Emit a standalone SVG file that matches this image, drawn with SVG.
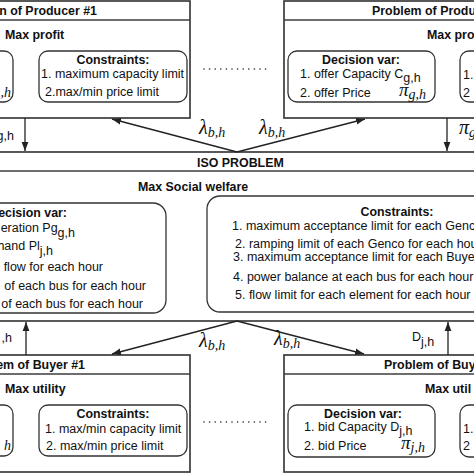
<svg xmlns="http://www.w3.org/2000/svg" width="474" height="474" viewBox="0 0 474 474">
<defs>
<style>
.box{fill:#fff;stroke:#3c3c3c;stroke-width:1.7}
.div{stroke:#3c3c3c;stroke-width:1.5;fill:none}
.inner{fill:#fff;stroke:#333;stroke-width:1.3}
.h{font-family:"Liberation Sans",Arial,sans-serif;font-weight:bold;font-size:12.4px;fill:#111}
.t{font-family:"Liberation Sans",Arial,sans-serif;font-size:12.5px;fill:#111}
.m{font-family:"Liberation Serif","Times New Roman",serif;font-style:italic;fill:#111}
.con{stroke:#222;stroke-width:1.3;fill:none;marker-end:url(#ah)}
.dots{stroke:#222;stroke-width:1.6;stroke-linecap:round;stroke-dasharray:0 5.6;fill:none}
</style>
<marker id="ah" markerUnits="userSpaceOnUse" markerWidth="10" markerHeight="8" refX="9" refY="4" orient="auto">
<path d="M0,0.6 L9,4 L0,7.4 Z" fill="#222"/>
</marker>
</defs>
<rect width="474" height="474" fill="#fff"/>

<g id="producer1">
<rect class="box" x="-120" y="1" width="310" height="117"/>
<line class="div" x1="-120" y1="20" x2="190" y2="20"/>
<text class="h" x="97" y="15" text-anchor="end">n of Producer #1</text>
<text class="h" x="5" y="39">Max profit</text>
<rect class="inner" x="-140" y="51" width="153" height="51" rx="9"/>
<text class="m" x="11" y="97" text-anchor="end" font-size="14">,h</text>
<rect class="inner" x="39" y="51" width="148" height="51" rx="9"/>
<text class="h" x="113" y="64" text-anchor="middle">Constraints:</text>
<text class="t" x="41" y="78">1. maximum capacity limit</text>
<text class="t" x="45" y="96">2.max/min price limit</text>
</g>

<g id="producerN">
<rect class="box" x="284" y="1" width="300" height="117"/>
<line class="div" x1="284" y1="20" x2="584" y2="20"/>
<text class="h" x="372" y="15">Problem of Produ</text>
<text class="h" x="427" y="39">Max pro</text>
<rect class="inner" x="288" y="51" width="147" height="51" rx="9"/>
<text class="h" x="361" y="64" text-anchor="middle">Decision var:</text>
<text class="t" x="300" y="78">1. offer Capacity C<tspan dy="4">g,h</tspan></text>
<text class="t" x="300" y="97">2. offer Price</text>
<text class="m" x="399" y="96" font-size="19">π<tspan font-size="14" dy="3">g,h</tspan></text>
<rect class="inner" x="460" y="51" width="100" height="51" rx="9"/>
<text class="t" x="463" y="79">1.</text>
<text class="t" x="463" y="97">2</text>
</g>

<g id="iso">
<rect class="box" x="-50" y="152" width="580" height="169"/>
<line class="div" x1="-50" y1="171" x2="530" y2="171"/>
<text class="h" x="197" y="167">ISO PROBLEM</text>
<text class="h" x="138" y="191">Max Social welfare</text>
<rect class="inner" x="-140" y="203" width="306" height="110" rx="13"/>
<text class="h" x="67" y="217" text-anchor="end">ecision var:</text>
<text class="t" x="75" y="232" text-anchor="end">eration Pg<tspan dy="5">g,h</tspan></text>
<text class="t" x="53" y="250" text-anchor="end">hand Pl<tspan dy="5">j,h</tspan></text>
<text class="t" x="103" y="271" text-anchor="end">flow for each hour</text>
<text class="t" x="146" y="290" text-anchor="end">of each bus for each hour</text>
<text class="t" x="143" y="308" text-anchor="end">of each bus for each hour</text>
<rect class="inner" x="207" y="196" width="400" height="116" rx="13"/>
<text class="h" x="397" y="216" text-anchor="middle">Constraints:</text>
<text class="t" x="232" y="230">1. maximum acceptance limit for each Genc</text>
<text class="t" x="235" y="248">2. ramping limit of each Genco for each hou</text>
<text class="t" x="233" y="261">3. maximum acceptance limit for each Buye</text>
<text class="t" x="233" y="281">4. power balance at each bus for each hour</text>
<text class="t" x="235" y="299">5. flow limit for each element for each hour</text>
</g>

<g id="buyer1">
<rect class="box" x="-120" y="355" width="310" height="117"/>
<line class="div" x1="-120" y1="374" x2="190" y2="374"/>
<text class="h" x="85" y="369" text-anchor="end">em of Buyer #1</text>
<text class="h" x="5" y="393">Max utility</text>
<rect class="inner" x="-140" y="405" width="153" height="51" rx="9"/>
<text class="m" x="11" y="450" text-anchor="end" font-size="14">h</text>
<rect class="inner" x="39" y="405" width="148" height="51" rx="9"/>
<text class="h" x="113" y="418" text-anchor="middle">Constraints:</text>
<text class="t" x="45" y="433">1. max/min capacity limit</text>
<text class="t" x="46" y="450">2. max/min price limit</text>
</g>

<g id="buyerN">
<rect class="box" x="284" y="355" width="300" height="117"/>
<line class="div" x1="284" y1="374" x2="584" y2="374"/>
<text class="h" x="384" y="369">Problem of Buy</text>
<text class="h" x="425" y="393">Max util</text>
<rect class="inner" x="288" y="405" width="147" height="52" rx="9"/>
<text class="h" x="363" y="418" text-anchor="middle">Decision var:</text>
<text class="t" x="304" y="431">1. bid Capacity D<tspan dy="4">j,h</tspan></text>
<text class="t" x="304" y="450">2. bid Price</text>
<text class="m" x="401" y="449" font-size="19">π<tspan font-size="14" dy="3">j,h</tspan></text>
<rect class="inner" x="460" y="405" width="100" height="52" rx="9"/>
<text class="t" x="463" y="433">1.</text>
<text class="t" x="463" y="450">2</text>
</g>

<g id="connectors">
<line class="con" x1="25" y1="118" x2="25" y2="151"/>
<line class="con" x1="447" y1="118" x2="447" y2="151"/>
<line class="con" x1="237" y1="152" x2="112" y2="119"/>
<line class="con" x1="237" y1="152" x2="365" y2="119"/>
<line class="con" x1="26" y1="355" x2="26" y2="322"/>
<line class="con" x1="448" y1="355" x2="448" y2="322"/>
<line class="con" x1="237" y1="321" x2="112" y2="354"/>
<line class="con" x1="237" y1="321" x2="364" y2="354"/>
<line class="dots" x1="204" y1="69" x2="266" y2="69"/>
<line class="dots" x1="204" y1="422" x2="266" y2="422"/>
<text class="t" x="14" y="140" text-anchor="end">g,h</text>
<text class="m" x="459" y="134" font-size="20">π<tspan font-size="14" dy="3">g</tspan></text>
<text class="m" x="199" y="134" font-size="20">λ<tspan font-size="14" dy="3">b,h</tspan></text>
<text class="m" x="259" y="134" font-size="20">λ<tspan font-size="14" dy="3">b,h</tspan></text>
<text class="t" x="12" y="342" text-anchor="end">,h</text>
<text class="m" x="199" y="347" font-size="20">λ<tspan font-size="14" dy="3">b,h</tspan></text>
<text class="m" x="274" y="345" font-size="20">λ<tspan font-size="14" dy="3">b,h</tspan></text>
<text class="t" x="412" y="341">D<tspan dy="5">j,h</tspan></text>
</g>
</svg>
